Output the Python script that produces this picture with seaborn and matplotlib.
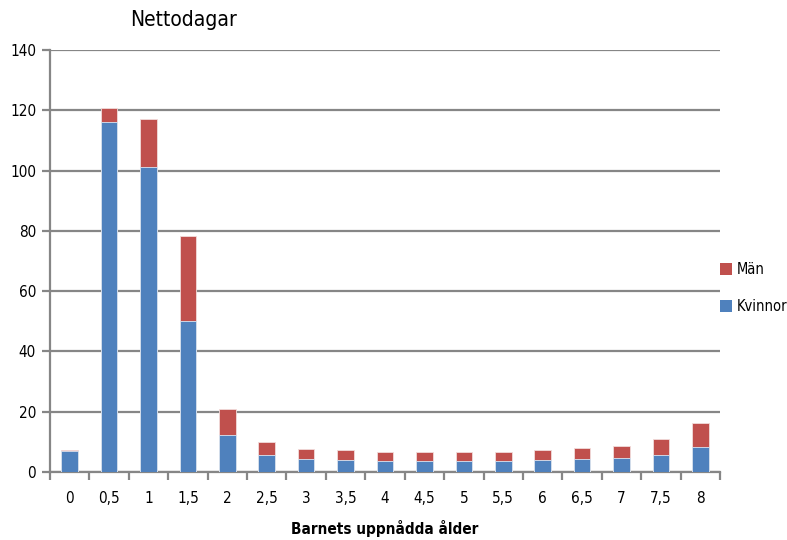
import numpy as np
import pandas as pd
import matplotlib
matplotlib.use("Agg")
import matplotlib.pyplot as plt
from matplotlib.patches import Patch
import seaborn as sns

# Child's age (years) and net days taken, split by sex
ages = ["0", "0,5", "1", "1,5", "2", "2,5", "3", "3,5", "4", "4,5",
        "5", "5,5", "6", "6,5", "7", "7,5", "8"]
kvinnor = [7.0, 116.0, 101.1, 50.1, 12.3, 5.5, 4.2, 3.9, 3.5, 3.5,
           3.5, 3.5, 3.9, 4.2, 4.5, 5.5, 8.4]
man = [0.3, 4.8, 16.0, 28.1, 8.6, 4.5, 3.4, 3.4, 3.1, 3.2,
       3.1, 3.3, 3.4, 3.7, 4.0, 5.3, 7.8]
yticks = [0, 20, 40, 60, 80, 100, 120, 140]

BLUE = "#4F81BD"
RED = "#C0504D"
GRID = "#868686"

sns.set_theme(style="white")
plt.rcParams["font.family"] = ["DejaVu Sans"]
plt.rcParams["font.stretch"] = "condensed"
plt.rcParams["text.color"] = "black"
plt.rcParams["axes.labelcolor"] = "black"
plt.rcParams["xtick.labelcolor"] = "black"
plt.rcParams["ytick.labelcolor"] = "black"

df = pd.DataFrame({"age": ages, "Kvinnor": kvinnor, "Män": man})
df["total"] = np.array(kvinnor) + np.array(man)

fig = plt.figure(figsize=(7.87, 5.40), dpi=100)
ax = fig.add_axes([50 / 787, 68 / 540, 670 / 787, 422 / 540])

# stacked bars: full height in red, women's part in blue over it
sns.barplot(data=df, x="age", y="total", order=ages, color=RED, saturation=1,
            width=0.42, edgecolor="#F2DCDB", linewidth=0.6, ax=ax, zorder=3)
sns.barplot(data=df, x="age", y="Kvinnor", order=ages, color=BLUE, saturation=1,
            width=0.42, edgecolor="#DCE6F2", linewidth=0.6, ax=ax, zorder=4)

ax.set_ylim(0, 140)
ax.set_xlim(-0.5, len(ages) - 0.5)
ax.set_yticks(yticks)
ax.set_yticklabels([str(v) for v in yticks], fontsize=11)
ax.yaxis.grid(True, color=GRID, linewidth=1.6)
ax.set_axisbelow(True)

# category ticks sit between the bars
ax.set_xticks(range(len(ages)))
ax.set_xticklabels(ages, fontsize=11)
ax.set_xticks(np.arange(-0.5, len(ages)), minor=True)
ax.tick_params(axis="x", which="major", length=0, pad=14)
ax.tick_params(axis="x", which="minor", length=6, width=1.6, color=GRID, direction="out")
ax.tick_params(axis="y", length=6, width=1.6, color=GRID, direction="out", pad=4)
ax.xaxis.set_ticks_position("bottom")
ax.yaxis.set_ticks_position("left")

for side in ["top", "right"]:
    ax.spines[side].set_visible(False)
for side in ["left", "bottom"]:
    ax.spines[side].set_color(GRID)
    ax.spines[side].set_linewidth(1.6)

ax.set_ylabel("")
ax.set_xlabel("Barnets uppnådda ålder", fontsize=11, fontweight="bold", labelpad=10)

fig.text(130 / 787, 1 - 20 / 540, "Nettodagar", fontsize=15, ha="left", va="center")

handles = [Patch(facecolor=RED, edgecolor="none"), Patch(facecolor=BLUE, edgecolor="none")]
fig.legend(handles, ["Män", "Kvinnor"], loc="center left",
           bbox_to_anchor=(720 / 787, 1 - 288 / 540), frameon=False, fontsize=10.5,
           borderpad=0, borderaxespad=0,
           handlelength=0.85, handleheight=0.85, handletextpad=0.3, labelspacing=1.5)

fig.savefig("out.png", dpi=100)
